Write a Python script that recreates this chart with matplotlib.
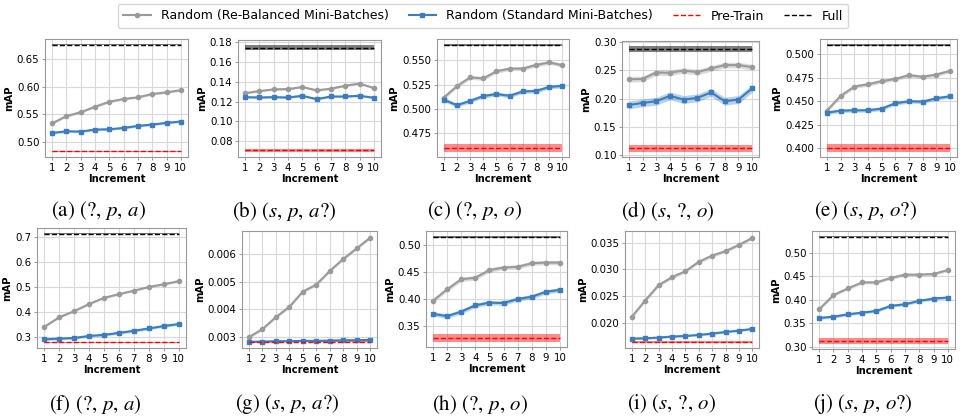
import numpy as np
import matplotlib.pyplot as plt
from matplotlib.lines import Line2D

plt.rcParams['mathtext.fontset'] = 'stix'

increments = np.arange(1, 11)

captions = [r'(a) $(?,\,p,\,a)$', r'(b) $(s,\,p,\,a?)$', r'(c) $(?,\,p,\,o)$', r'(d) $(s,\,?,\,o)$',
            r'(e) $(s,\,p,\,o?)$', r'(f) $(?,\,p,\,a)$', r'(g) $(s,\,p,\,a?)$', r'(h) $(?,\,p,\,o)$',
            r'(i) $(s,\,?,\,o)$', r'(j) $(s,\,p,\,o?)$']

# Random (Re-Balanced Mini-Batches)
rebal_a = [0.534, 0.547, 0.554, 0.564, 0.573, 0.578, 0.581, 0.587, 0.590, 0.594]
rebal_b = [0.1285, 0.1306, 0.1323, 0.1326, 0.1347, 0.1313, 0.1330, 0.1360, 0.1381, 0.1337]
rebal_c = [0.5115, 0.5233, 0.5323, 0.5313, 0.5385, 0.5413, 0.5413, 0.5451, 0.5476, 0.5448]
rebal_d = [0.2343, 0.2349, 0.2463, 0.2457, 0.2499, 0.2469, 0.2535, 0.2595, 0.2595, 0.2559]
rebal_e = [0.440, 0.4557, 0.4657, 0.4681, 0.4714, 0.4738, 0.4778, 0.4760, 0.4785, 0.4824]
rebal_f = [0.342, 0.380, 0.4044, 0.4329, 0.4573, 0.4722, 0.4858, 0.5007, 0.5115, 0.5237]
rebal_g = [0.002976, 0.003267, 0.003705, 0.004081, 0.00464, 0.004895, 0.005394, 0.005831, 0.00622, 0.006609]
rebal_h = [0.397, 0.4182, 0.4365, 0.4395, 0.4535, 0.4583, 0.4595, 0.4662, 0.4674, 0.4674]
rebal_i = [0.02107, 0.02414, 0.02703, 0.02853, 0.02966, 0.03142, 0.03261, 0.03343, 0.03462, 0.03593]
rebal_j = [0.3801, 0.410, 0.4242, 0.437, 0.437, 0.4463, 0.4534, 0.4534, 0.4548, 0.4633]

# Random (Standard Mini-Batches)
std_a = [0.5165, 0.5195, 0.519, 0.5226, 0.5232, 0.5256, 0.5293, 0.5317, 0.5348, 0.5372]
std_b = [0.1244, 0.1241, 0.1244, 0.1241, 0.1258, 0.1224, 0.1251, 0.1251, 0.1258, 0.1238]
std_c = [0.5097, 0.5038, 0.5083, 0.5132, 0.5153, 0.5135, 0.5180, 0.5184, 0.5226, 0.5236]
std_d = [0.1886, 0.1922, 0.1952, 0.2048, 0.1982, 0.2012, 0.2108, 0.1952, 0.1982, 0.2180]
std_e = [0.4379, 0.4400, 0.4404, 0.4404, 0.4422, 0.4479, 0.4500, 0.4496, 0.4532, 0.4553]
std_f = [0.2919, 0.2946, 0.2973, 0.3054, 0.3095, 0.3176, 0.3258, 0.3353, 0.3447, 0.3529]
std_g = [0.002806, 0.002818, 0.00283, 0.00283, 0.002842, 0.002842, 0.002854, 0.002866, 0.002866, 0.002878]
std_h = [0.3727, 0.3684, 0.3769, 0.3885, 0.3933, 0.3927, 0.4000, 0.4043, 0.4134, 0.4170]
std_i = [0.01699, 0.01705, 0.01718, 0.01737, 0.01749, 0.01768, 0.01793, 0.01824, 0.01849, 0.01881]
std_j = [0.3616, 0.3644, 0.3694, 0.3730, 0.3765, 0.3872, 0.3907, 0.3979, 0.4028, 0.4050]

# Pre-Train and Full baselines (None = not drawn)
pretrain = [0.4835, 0.0704, 0.4604, 0.1114, 0.4004, 0.281, 0.002818, 0.3287, 0.01642, 0.3128]
full = [0.676, 0.1745, 0.5653, 0.288, 0.5096, 0.7122, None, 0.514, None, 0.5335]

# half-width of shaded bands: rebalanced, standard, pre-train, full
band_a = [0.002, 0.002, 0.0008, 0.0008]
band_b = [0.001, 0.001, 0.0012, 0.0024]
band_c = [0.002, 0.002, 0.004, 0.0008]
band_d = [0.005, 0.007, 0.006, 0.005]
band_e = [0.002, 0.002, 0.004, 0.001]
band_f = [0.004, 0.005, 0.002, 0.002]
band_g = [0.00005, 0.00003, 0.00001, 0.0]
band_h = [0.004, 0.004, 0.0075, 0.002]
band_i = [0.0003, 0.0002, 0.0002, 0.0]
band_j = [0.003, 0.003, 0.0055, 0.001]

yticks = [[0.50, 0.55, 0.60, 0.65], [0.08, 0.10, 0.12, 0.14, 0.16, 0.18],
          [0.475, 0.500, 0.525, 0.550], [0.10, 0.15, 0.20, 0.25, 0.30],
          [0.400, 0.425, 0.450, 0.475, 0.500], [0.3, 0.4, 0.5, 0.6, 0.7],
          [0.003, 0.004, 0.005, 0.006], [0.35, 0.40, 0.45, 0.50],
          [0.020, 0.025, 0.030, 0.035], [0.30, 0.35, 0.40, 0.45, 0.50]]

rebal = [rebal_a, rebal_b, rebal_c, rebal_d, rebal_e, rebal_f, rebal_g, rebal_h, rebal_i, rebal_j]
std = [std_a, std_b, std_c, std_d, std_e, std_f, std_g, std_h, std_i, std_j]
bands = [band_a, band_b, band_c, band_d, band_e, band_f, band_g, band_h, band_i, band_j]

# axes boxes in pixels: left, top, right, bottom ; caption centre x
boxes = [(45, 39, 188, 157), (238, 40, 381, 157), (437, 39, 569, 157), (622, 41, 759, 157), (820, 39, 957, 157),
         (37, 228, 186, 348), (242, 231, 377, 348), (426, 231, 567, 347), (625, 231, 759, 348), (812, 231, 955, 349)]
cap_x = [98, 284, 474, 668, 866, 95, 287, 480, 672, 863]

W, H = 966, 418
gray = '#9a9a9a'
blue = '#3a7ebf'

fig = plt.figure(figsize=(W / 100, H / 100), dpi=100)

for k in range(10):
    l, t, r, b = boxes[k]
    ax = fig.add_axes([l / W, 1 - b / H, (r - l) / W, (b - t) / H])
    rb = np.array(rebal[k])
    sd = np.array(std[k])
    e = bands[k]
    ax.fill_between(increments, rb - e[0], rb + e[0], color=gray, alpha=0.35, lw=0)
    ax.plot(increments, rb, color=gray, marker='o', ms=3, lw=1.5)
    ax.fill_between(increments, sd - e[1], sd + e[1], color=blue, alpha=0.35, lw=0)
    ax.plot(increments, sd, color=blue, marker='s', ms=3.5, lw=1.5)
    p = pretrain[k]
    ax.fill_between([1, 10], p - e[2], p + e[2], color='red', alpha=0.45, lw=0)
    ax.hlines(p, 1, 10, colors='red', linestyles='--', lw=1)
    if full[k] is not None:
        f = full[k]
        ax.fill_between([1, 10], f - e[3], f + e[3], color='black', alpha=0.5, lw=0)
        ax.hlines(f, 1, 10, colors='black', linestyles='--', lw=1)
    ax.set_xlim(0.5, 10.5)
    ax.set_xticks(increments)
    ax.set_yticks(yticks[k])
    ax.grid(True, color='#d8d8d8', lw=0.8)
    ax.set_axisbelow(True)
    ax.tick_params(labelsize=7.4, length=2.5, width=0.6, color='#888888', pad=1.5)
    for s in ax.spines.values():
        s.set_color('#999999')
        s.set_linewidth(0.8)
    ax.set_xlabel('Increment', fontsize=7.2, fontweight='bold', labelpad=1)
    ax.set_ylabel('mAP', fontsize=7.2, fontweight='bold', labelpad=2)
    cy = 211 if k < 5 else 404
    fig.text(cap_x[k] / W, 1 - cy / H, captions[k], fontsize=15, family='STIXGeneral',
             ha='center', va='center')

handles = [Line2D([], [], color=gray, marker='o', ms=3, lw=1.5),
           Line2D([], [], color=blue, marker='s', ms=3.5, lw=1.5),
           Line2D([], [], color='red', ls='--', lw=1),
           Line2D([], [], color='black', ls='--', lw=1)]
labels = ['Random (Re-Balanced Mini-Batches)', 'Random (Standard Mini-Batches)', 'Pre-Train', 'Full']
fig.legend(handles, labels, loc='center', bbox_to_anchor=(483 / W, 1 - 16 / H), ncol=4,
           fontsize=9, frameon=True, handlelength=2.2, columnspacing=1.6, borderpad=0.45)

fig.savefig('out.png', dpi=100)
